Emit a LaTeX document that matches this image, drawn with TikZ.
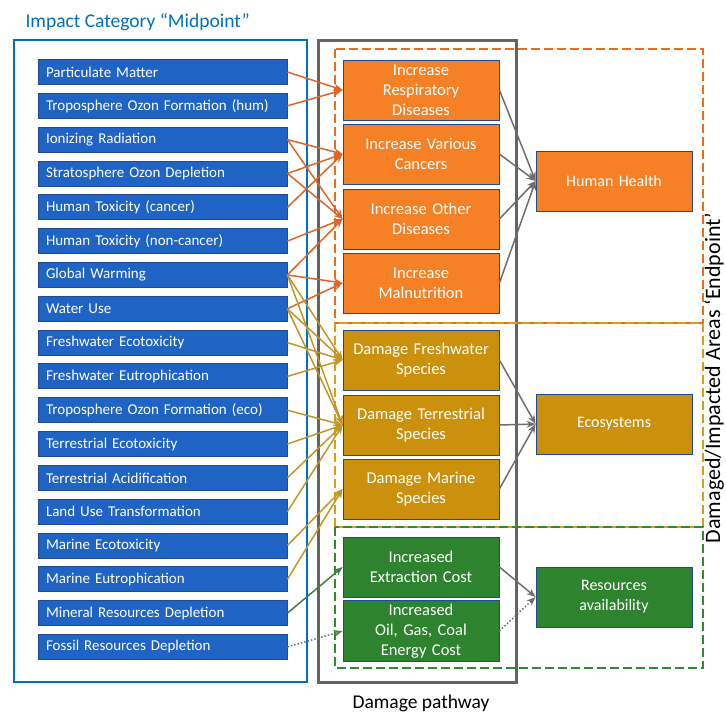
\documentclass[tikz,border=0pt]{standalone}
\usepackage{fontspec}
\setmainfont{Carlito}
\usetikzlibrary{arrows.meta}

\definecolor{catblue}{RGB}{31,100,196}
\definecolor{catedge}{RGB}{30,74,150}
\definecolor{frameblue}{RGB}{0,112,192}
\definecolor{pathgray}{RGB}{100,100,100}
\definecolor{hhorange}{RGB}{246,128,38}
\definecolor{ecogold}{RGB}{203,145,12}
\definecolor{resgreen}{RGB}{46,132,46}
\definecolor{lineorange}{RGB}{224,100,40}
\definecolor{linegold}{RGB}{196,150,40}
\definecolor{linegreen}{RGB}{60,130,60}
\definecolor{linegray}{RGB}{110,110,110}
\definecolor{dashorange}{RGB}{230,110,30}
\definecolor{dashgold}{RGB}{214,160,20}
\definecolor{dashgreen}{RGB}{46,140,46}

\begin{document}
\begin{tikzpicture}[x=1pt,y=-1pt,
    catbox/.style={draw=catedge, line width=0.8pt, fill=catblue, text=white,
        minimum height=25pt, text width=233pt, inner xsep=8pt, align=left,
        font=\fontsize{15}{17}\selectfont},
    pathbox/.style={draw=catedge, line width=0.8pt, text=white,
        minimum width=156pt, minimum height=60pt, text width=152pt, inner xsep=2pt,
        align=center, font=\fontsize{16.5}{20}\selectfont},
    endbox/.style={pathbox, font=\fontsize{16}{20}\selectfont},
    zonebox/.style={line width=2.8pt, dash pattern=on 9pt off 4pt},
    tip/.style={-{Stealth[length=9pt,width=7pt]}, line width=1.5pt}
]
\useasboundingbox (0,0) rectangle (726,713);

% frames
\draw[frameblue, line width=2.5pt] (14,40) rectangle (307,682);
\draw[pathgray, line width=3pt] (318,40) rectangle (516,682);
\draw[zonebox, dashorange] (335,49) rectangle (703,323);
\draw[zonebox, dashgold] (335,323) rectangle (703,527);
\draw[zonebox, dashgreen] (335,527) rectangle (703,668);

\node[anchor=west, text=frameblue, font=\fontsize{19.5}{22}\selectfont] (title) at (22,22) {Impact Category “Midpoint”};
\node[font=\fontsize{19.5}{22}\selectfont] (pathway) at (421,703) {Damage pathway};
\node[rotate=90, anchor=base, inner sep=0pt, font=\fontsize{22}{25}\selectfont] (endpoint) at (720,378) {Damaged/Impacted Areas ‘Endpoint’};

% midpoint categories
\foreach \txt [count=\i] in {Particulate Matter, Troposphere Ozon Formation (hum),
    Ionizing Radiation, Stratosphere Ozon Depletion, Human Toxicity (cancer),
    Human Toxicity (non-cancer), Global Warming, Water Use, Freshwater Ecotoxicity,
    Freshwater Eutrophication, Troposphere Ozon Formation (eco), Terrestrial Ecotoxicity,
    Terrestrial Acidification, Land Use Transformation, Marine Ecotoxicity,
    Marine Eutrophication, Mineral Resources Depletion, Fossil Resources Depletion}
  \node[catbox] (m\i) at (162.5,{72+33.82*(\i-1)}) {\txt};

% damage pathway
\node[pathbox, fill=hhorange] (resp) at (421,90) {Increase\\Respiratory\\Diseases};
\node[pathbox, fill=hhorange] (canc) at (421,154) {Increase Various\\Cancers};
\node[pathbox, fill=hhorange] (dise) at (421,219) {Increase Other\\Diseases};
\node[pathbox, fill=hhorange] (maln) at (421,283) {Increase\\Malnutrition};
\node[pathbox, fill=ecogold] (fwsp) at (421,360) {Damage Freshwater\\Species};
\node[pathbox, fill=ecogold] (tesp) at (421,425) {Damage Terrestrial\\Species};
\node[pathbox, fill=ecogold] (masp) at (421,489) {Damage Marine\\Species};
\node[pathbox, fill=resgreen] (extr) at (421,567) {Increased\\Extraction Cost};
\node[pathbox, fill=resgreen] (fuel) at (421,631) {Increased\\Oil, Gas, Coal\\Energy Cost};

% endpoints
\node[endbox, fill=hhorange] (hh) at (614,181) {Human Health};
\node[endbox, fill=ecogold] (eco) at (614,424) {Ecosystems};
\node[endbox, fill=resgreen] (res) at (614,597) {Resources\\availability};

% midpoint to pathway
\foreach \a/\b in {m1/resp, m2/resp, m3/canc, m3/dise, m4/canc, m4/dise,
    m5/canc, m6/dise, m7/dise, m7/maln, m8/maln}
  \draw[tip, lineorange] (\a.east) -- (\b.west);
\foreach \a/\b in {m7/fwsp, m7/tesp, m8/fwsp, m8/tesp, m9/fwsp, m10/fwsp,
    m11/tesp, m12/tesp, m13/tesp, m14/tesp, m15/masp, m16/masp}
  \draw[tip, linegold] (\a.east) -- (\b.west);
\draw[tip, linegreen] (m17.east) -- (extr.west);
\draw[tip, linegreen!60!gray, dotted] (m18.east) -- (fuel.west);

% pathway to endpoint
\foreach \a/\b in {resp/hh, canc/hh, dise/hh, maln/hh, fwsp/eco, tesp/eco, masp/eco, extr/res}
  \draw[tip, linegray] (\a.east) -- (\b.west);
\draw[tip, linegray, dotted] (fuel.east) -- (res.west);

\end{tikzpicture}
\end{document}
